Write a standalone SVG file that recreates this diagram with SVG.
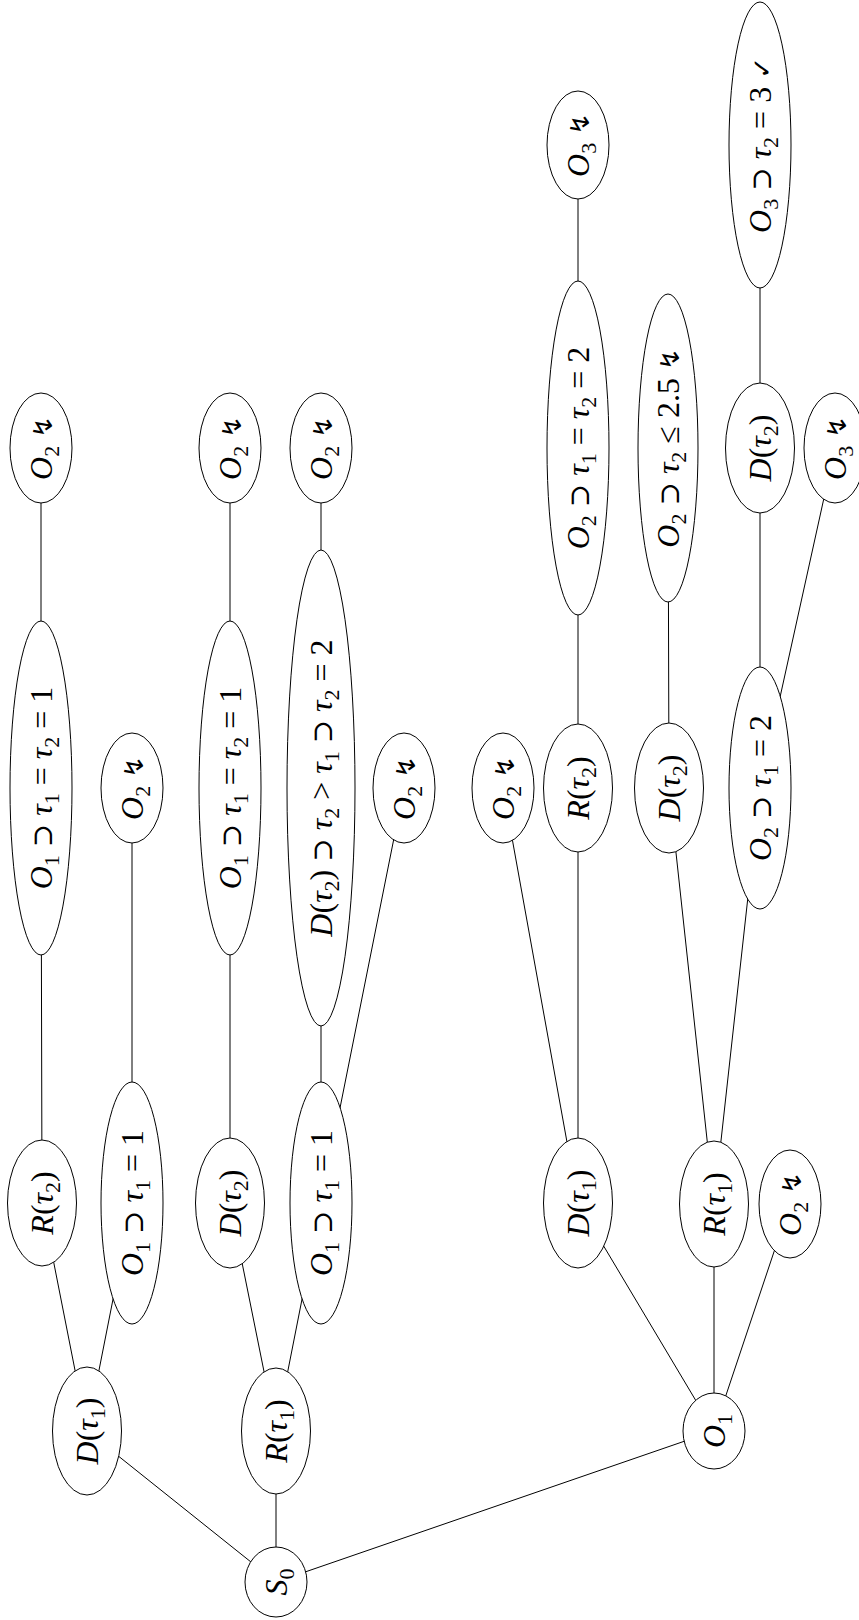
<svg xmlns="http://www.w3.org/2000/svg" width="859" height="1620" viewBox="0 0 859 1620">
  <style>
    .edges line { stroke: #000; stroke-width: 1; }
    .node ellipse { fill: #fff; stroke: #000; stroke-width: 1; }
    .node text { font-family: "Liberation Serif", "DejaVu Serif", serif; font-size: 32px; text-anchor: middle; fill: #000; }
    .i { font-style: italic; }
    .s { font-size: 22px; }
    .sym { font-family: "DejaVu Serif", "Liberation Serif", serif; font-size: 28px; }
    .bolt { font-family: "DejaVu Sans", sans-serif; font-size: 26px; }
  </style>

  <!-- connectors: center to center, covered by the filled ellipses drawn afterwards -->
  <g id="edges" class="edges">
    <line x1="276" y1="1582" x2="87" y2="1431"/>
    <line x1="276" y1="1582" x2="276" y2="1431"/>
    <line x1="276" y1="1582" x2="714" y2="1431"/>
    <line x1="87" y1="1431" x2="42" y2="1203"/>
    <line x1="87" y1="1431" x2="132" y2="1203"/>
    <line x1="42" y1="1203" x2="41" y2="788"/>
    <line x1="41" y1="788" x2="41" y2="448"/>
    <line x1="132" y1="1203" x2="132" y2="788"/>
    <line x1="276" y1="1431" x2="230" y2="1203"/>
    <line x1="276" y1="1431" x2="321" y2="1203"/>
    <line x1="230" y1="1203" x2="230" y2="788"/>
    <line x1="230" y1="788" x2="230" y2="448"/>
    <line x1="321" y1="1203" x2="321" y2="788"/>
    <line x1="321" y1="1203" x2="404" y2="788"/>
    <line x1="321" y1="788" x2="321" y2="448"/>
    <line x1="714" y1="1431" x2="578" y2="1203"/>
    <line x1="714" y1="1431" x2="714" y2="1204"/>
    <line x1="714" y1="1431" x2="790" y2="1204"/>
    <line x1="578" y1="1203" x2="503" y2="788"/>
    <line x1="578" y1="1203" x2="578" y2="788"/>
    <line x1="578" y1="788" x2="578" y2="448"/>
    <line x1="578" y1="448" x2="578" y2="145"/>
    <line x1="714" y1="1204" x2="669" y2="788"/>
    <line x1="714" y1="1204" x2="760" y2="788"/>
    <line x1="669" y1="788" x2="668" y2="448"/>
    <line x1="760" y1="788" x2="760" y2="448"/>
    <line x1="760" y1="788" x2="835" y2="448"/>
    <line x1="760" y1="448" x2="760" y2="145"/>
  </g>

  <!-- root -->
  <g id="s0" class="node">
    <ellipse cx="276" cy="1582" rx="31" ry="35"/>
    <text transform="translate(276,1582) rotate(-90)" y="11"><tspan class="i">S</tspan><tspan class="s" dy="7">0</tspan></text>
  </g>

  <!-- level 1 -->
  <g id="d-tau1-a" class="node">
    <ellipse cx="87" cy="1431" rx="34.5" ry="64"/>
    <text transform="translate(87,1431) rotate(-90)" y="11"><tspan class="i">D</tspan>(<tspan class="i">τ</tspan><tspan class="s" dy="7">1</tspan><tspan dy="-7">)</tspan></text>
  </g>
  <g id="r-tau1-a" class="node">
    <ellipse cx="276" cy="1431" rx="34.5" ry="63"/>
    <text transform="translate(276,1431) rotate(-90)" y="11"><tspan class="i">R</tspan>(<tspan class="i">τ</tspan><tspan class="s" dy="7">1</tspan><tspan dy="-7">)</tspan></text>
  </g>
  <g id="o1" class="node">
    <ellipse cx="714" cy="1431" rx="31" ry="38"/>
    <text transform="translate(714,1431) rotate(-90)" y="11"><tspan class="i">O</tspan><tspan class="s" dy="7">1</tspan></text>
  </g>

  <!-- level 2 -->
  <g id="r-tau2-a" class="node">
    <ellipse cx="42" cy="1203" rx="34.5" ry="63"/>
    <text transform="translate(42,1203) rotate(-90)" y="11"><tspan class="i">R</tspan>(<tspan class="i">τ</tspan><tspan class="s" dy="7">2</tspan><tspan dy="-7">)</tspan></text>
  </g>
  <g id="o1-t1-a" class="node">
    <ellipse cx="132" cy="1203" rx="31" ry="121"/>
    <text transform="translate(132,1203) rotate(-90)" y="11"><tspan class="i">O</tspan><tspan class="s" dy="7">1</tspan><tspan dy="-7"> </tspan><tspan class="sym">⊃</tspan> <tspan class="i">τ</tspan><tspan class="s" dy="7">1</tspan><tspan dy="-7"> = 1</tspan></text>
  </g>
  <g id="d-tau2-a" class="node">
    <ellipse cx="230" cy="1203" rx="34.5" ry="65"/>
    <text transform="translate(230,1203) rotate(-90)" y="11"><tspan class="i">D</tspan>(<tspan class="i">τ</tspan><tspan class="s" dy="7">2</tspan><tspan dy="-7">)</tspan></text>
  </g>
  <g id="o1-t1-b" class="node">
    <ellipse cx="321" cy="1203" rx="31" ry="121"/>
    <text transform="translate(321,1203) rotate(-90)" y="11"><tspan class="i">O</tspan><tspan class="s" dy="7">1</tspan><tspan dy="-7"> </tspan><tspan class="sym">⊃</tspan> <tspan class="i">τ</tspan><tspan class="s" dy="7">1</tspan><tspan dy="-7"> = 1</tspan></text>
  </g>
  <g id="d-tau1-b" class="node">
    <ellipse cx="578" cy="1203" rx="34.5" ry="65"/>
    <text transform="translate(578,1203) rotate(-90)" y="11"><tspan class="i">D</tspan>(<tspan class="i">τ</tspan><tspan class="s" dy="7">1</tspan><tspan dy="-7">)</tspan></text>
  </g>
  <g id="r-tau1-b" class="node">
    <ellipse cx="714" cy="1204" rx="34.5" ry="63"/>
    <text transform="translate(714,1204) rotate(-90)" y="11"><tspan class="i">R</tspan>(<tspan class="i">τ</tspan><tspan class="s" dy="7">1</tspan><tspan dy="-7">)</tspan></text>
  </g>
  <g id="o2-fail-l2" class="node">
    <ellipse cx="790" cy="1204" rx="31" ry="54"/>
    <text transform="translate(790,1204) rotate(-90)" y="11"><tspan class="i">O</tspan><tspan class="s" dy="7">2</tspan><tspan dy="-7"> </tspan><tspan class="bolt">↯</tspan></text>
  </g>

  <!-- level 3 -->
  <g id="o1-t1t2-a" class="node">
    <ellipse cx="41" cy="788" rx="31" ry="167"/>
    <text transform="translate(41,788) rotate(-90)" y="11"><tspan class="i">O</tspan><tspan class="s" dy="7">1</tspan><tspan dy="-7"> </tspan><tspan class="sym">⊃</tspan> <tspan class="i">τ</tspan><tspan class="s" dy="7">1</tspan><tspan dy="-7"> = </tspan><tspan class="i">τ</tspan><tspan class="s" dy="7">2</tspan><tspan dy="-7"> = 1</tspan></text>
  </g>
  <g id="o2-fail-a" class="node">
    <ellipse cx="132" cy="788" rx="31" ry="55"/>
    <text transform="translate(132,788) rotate(-90)" y="11"><tspan class="i">O</tspan><tspan class="s" dy="7">2</tspan><tspan dy="-7"> </tspan><tspan class="bolt">↯</tspan></text>
  </g>
  <g id="o1-t1t2-b" class="node">
    <ellipse cx="230" cy="788" rx="31" ry="167"/>
    <text transform="translate(230,788) rotate(-90)" y="11"><tspan class="i">O</tspan><tspan class="s" dy="7">1</tspan><tspan dy="-7"> </tspan><tspan class="sym">⊃</tspan> <tspan class="i">τ</tspan><tspan class="s" dy="7">1</tspan><tspan dy="-7"> = </tspan><tspan class="i">τ</tspan><tspan class="s" dy="7">2</tspan><tspan dy="-7"> = 1</tspan></text>
  </g>
  <g id="d-tau2-chain" class="node">
    <ellipse cx="321" cy="788" rx="34" ry="238"/>
    <text transform="translate(321,788) rotate(-90)" y="11"><tspan class="i">D</tspan>(<tspan class="i">τ</tspan><tspan class="s" dy="7">2</tspan><tspan dy="-7">) </tspan><tspan class="sym">⊃</tspan> <tspan class="i">τ</tspan><tspan class="s" dy="7">2</tspan><tspan dy="-7"> &gt; </tspan><tspan class="i">τ</tspan><tspan class="s" dy="7">1</tspan><tspan dy="-7"> </tspan><tspan class="sym">⊃</tspan> <tspan class="i">τ</tspan><tspan class="s" dy="7">2</tspan><tspan dy="-7"> = 2</tspan></text>
  </g>
  <g id="o2-fail-b" class="node">
    <ellipse cx="404" cy="788" rx="31" ry="55"/>
    <text transform="translate(404,788) rotate(-90)" y="11"><tspan class="i">O</tspan><tspan class="s" dy="7">2</tspan><tspan dy="-7"> </tspan><tspan class="bolt">↯</tspan></text>
  </g>
  <g id="o2-fail-c" class="node">
    <ellipse cx="503" cy="788" rx="31" ry="55"/>
    <text transform="translate(503,788) rotate(-90)" y="11"><tspan class="i">O</tspan><tspan class="s" dy="7">2</tspan><tspan dy="-7"> </tspan><tspan class="bolt">↯</tspan></text>
  </g>
  <g id="r-tau2-b" class="node">
    <ellipse cx="578" cy="788" rx="34.5" ry="64"/>
    <text transform="translate(578,788) rotate(-90)" y="11"><tspan class="i">R</tspan>(<tspan class="i">τ</tspan><tspan class="s" dy="7">2</tspan><tspan dy="-7">)</tspan></text>
  </g>
  <g id="d-tau2-b" class="node">
    <ellipse cx="669" cy="788" rx="34.5" ry="65"/>
    <text transform="translate(669,788) rotate(-90)" y="11"><tspan class="i">D</tspan>(<tspan class="i">τ</tspan><tspan class="s" dy="7">2</tspan><tspan dy="-7">)</tspan></text>
  </g>
  <g id="o2-t1" class="node">
    <ellipse cx="760" cy="788" rx="31" ry="121"/>
    <text transform="translate(760,788) rotate(-90)" y="11"><tspan class="i">O</tspan><tspan class="s" dy="7">2</tspan><tspan dy="-7"> </tspan><tspan class="sym">⊃</tspan> <tspan class="i">τ</tspan><tspan class="s" dy="7">1</tspan><tspan dy="-7"> = 2</tspan></text>
  </g>

  <!-- level 4 -->
  <g id="o2-fail-d" class="node">
    <ellipse cx="41" cy="448" rx="31" ry="55"/>
    <text transform="translate(41,448) rotate(-90)" y="11"><tspan class="i">O</tspan><tspan class="s" dy="7">2</tspan><tspan dy="-7"> </tspan><tspan class="bolt">↯</tspan></text>
  </g>
  <g id="o2-fail-e" class="node">
    <ellipse cx="230" cy="448" rx="31" ry="55"/>
    <text transform="translate(230,448) rotate(-90)" y="11"><tspan class="i">O</tspan><tspan class="s" dy="7">2</tspan><tspan dy="-7"> </tspan><tspan class="bolt">↯</tspan></text>
  </g>
  <g id="o2-fail-f" class="node">
    <ellipse cx="321" cy="448" rx="31" ry="55"/>
    <text transform="translate(321,448) rotate(-90)" y="11"><tspan class="i">O</tspan><tspan class="s" dy="7">2</tspan><tspan dy="-7"> </tspan><tspan class="bolt">↯</tspan></text>
  </g>
  <g id="o2-t1t2" class="node">
    <ellipse cx="578" cy="448" rx="31" ry="167"/>
    <text transform="translate(578,448) rotate(-90)" y="11"><tspan class="i">O</tspan><tspan class="s" dy="7">2</tspan><tspan dy="-7"> </tspan><tspan class="sym">⊃</tspan> <tspan class="i">τ</tspan><tspan class="s" dy="7">1</tspan><tspan dy="-7"> = </tspan><tspan class="i">τ</tspan><tspan class="s" dy="7">2</tspan><tspan dy="-7"> = 2</tspan></text>
  </g>
  <g id="o2-t2-le" class="node">
    <ellipse cx="668" cy="448" rx="30" ry="154"/>
    <text transform="translate(668,448) rotate(-90)" y="11"><tspan class="i">O</tspan><tspan class="s" dy="7">2</tspan><tspan dy="-7"> </tspan><tspan class="sym">⊃</tspan> <tspan class="i">τ</tspan><tspan class="s" dy="7">2</tspan><tspan dy="-7"> ≤ 2.5 </tspan><tspan class="bolt">↯</tspan></text>
  </g>
  <g id="d-tau2-c" class="node">
    <ellipse cx="760" cy="448" rx="34.5" ry="65"/>
    <text transform="translate(760,448) rotate(-90)" y="11"><tspan class="i">D</tspan>(<tspan class="i">τ</tspan><tspan class="s" dy="7">2</tspan><tspan dy="-7">)</tspan></text>
  </g>
  <g id="o3-fail-a" class="node">
    <ellipse cx="835" cy="448" rx="31" ry="55"/>
    <text transform="translate(835,448) rotate(-90)" y="11"><tspan class="i">O</tspan><tspan class="s" dy="7">3</tspan><tspan dy="-7"> </tspan><tspan class="bolt">↯</tspan></text>
  </g>

  <!-- level 5 -->
  <g id="o3-fail-b" class="node">
    <ellipse cx="578" cy="145" rx="31" ry="54"/>
    <text transform="translate(578,145) rotate(-90)" y="11"><tspan class="i">O</tspan><tspan class="s" dy="7">3</tspan><tspan dy="-7"> </tspan><tspan class="bolt">↯</tspan></text>
  </g>
  <g id="o3-t2-ok" class="node">
    <ellipse cx="760" cy="145" rx="31" ry="143"/>
    <text transform="translate(760,145) rotate(-90)" y="11"><tspan class="i">O</tspan><tspan class="s" dy="7">3</tspan><tspan dy="-7"> </tspan><tspan class="sym">⊃</tspan> <tspan class="i">τ</tspan><tspan class="s" dy="7">2</tspan><tspan dy="-7"> = 3 </tspan><tspan class="bolt">✓</tspan></text>
  </g>
</svg>
